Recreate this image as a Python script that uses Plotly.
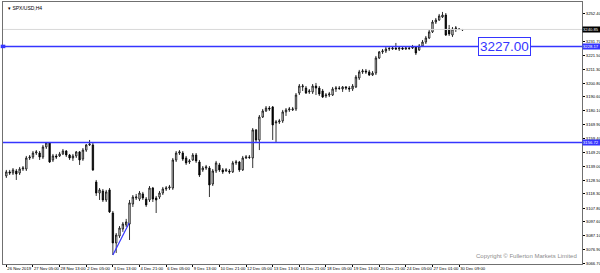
import plotly.graph_objects as go

# ---- data (SPX/USD H4) ----
opens = [3131.7,3134.7,3133.9,3135.4,3133.9,3136.9,3136.9,3145.1,3145.8,3148.8,
         3148.8,3145.8,3153.3,3156.3,3143.6,3146.6,3146.6,3148.1,3150.3,3147.3,
         3145.1,3146.6,3149.6,3144.3,3151.0,3154.8,3154.8,3127.2,3119.0,3120.5,
         3113.8,3121.3,3104.1,3081.8,3087.0,3092.2,3095.2,3095.9,3110.8,3115.3,
         3114.5,3118.3,3114.5,3113.8,3122.7,3115.3,3116.0,3119.0,3122.0,3122.7,
         3122.7,3143.6,3148.8,3148.8,3145.1,3142.1,3143.6,3147.3,3142.1,3136.2,
         3137.6,3137.6,3125.7,3135.4,3139.9,3136.2,3135.4,3135.4,3134.7,3141.4,
         3142.1,3136.2,3145.1,3145.8,3145.1,3166.0,3158.5,3175.6,3180.1,3182.3,
         3183.1,3171.2,3171.9,3172.7,3179.4,3180.9,3180.9,3181.6,3193.5,3198.0,
         3197.2,3194.3,3194.3,3198.7,3197.2,3195.0,3191.3,3192.0,3192.0,3196.5,
         3197.2,3196.5,3198.0,3197.2,3196.5,3198.0,3204.7,3209.2,3209.9,3209.2,
         3206.9,3208.4,3219.6,3224.1,3224.8,3226.3,3226.3,3227.0,3226.3,3227.0,
         3226.3,3227.0,3227.0,3227.8,3225.6,3228.5,3231.5,3234.5,3239.0,3246.4,
         3247.9,3250.1,3251.6,3241.2,3236.7,3241.2,3241.2,3240.5]
highs = [3136.2,3136.2,3137.6,3136.9,3138.4,3139.1,3146.6,3147.3,3150.3,3151.0,
         3150.3,3154.8,3157.0,3157.0,3148.1,3148.1,3149.6,3151.8,3151.0,3148.1,
         3148.1,3150.3,3150.3,3152.5,3155.5,3158.5,3156.3,3128.7,3122.7,3122.0,
         3121.3,3122.7,3105.6,3089.2,3094.4,3097.4,3099.7,3113.8,3117.5,3118.3,
         3120.5,3119.8,3116.0,3124.2,3123.5,3116.8,3120.5,3123.5,3124.2,3125.0,
         3145.1,3150.3,3151.0,3150.3,3146.6,3144.3,3148.8,3148.8,3143.6,3139.1,
         3139.9,3139.1,3136.9,3142.9,3141.4,3137.6,3137.6,3136.9,3142.9,3143.6,
         3142.9,3146.6,3147.3,3147.3,3167.4,3166.7,3177.1,3181.6,3183.8,3183.8,
         3183.8,3173.4,3174.2,3180.9,3182.3,3183.1,3183.1,3193.5,3200.2,3200.2,
         3198.7,3196.5,3200.2,3201.0,3198.7,3196.5,3193.5,3194.3,3198.0,3198.7,
         3198.7,3198.7,3198.7,3198.7,3200.2,3206.9,3210.7,3211.4,3211.4,3210.7,
         3209.9,3221.1,3224.8,3226.3,3227.8,3227.8,3228.5,3230.8,3227.8,3227.8,
         3227.8,3228.5,3229.3,3228.5,3230.0,3233.0,3236.0,3240.5,3247.9,3249.4,
         3252.4,3253.9,3253.1,3244.2,3242.7,3243.4,3241.9,3241.2]
lows = [3130.2,3132.4,3132.4,3128.7,3132.4,3135.4,3135.4,3143.6,3144.3,3147.3,
        3143.6,3144.3,3151.8,3141.4,3142.1,3144.3,3145.8,3147.3,3145.8,3143.6,
        3142.9,3145.1,3139.9,3142.9,3149.6,3154.0,3135.4,3116.8,3113.8,3112.3,
        3112.3,3104.1,3072.8,3074.3,3085.5,3090.0,3093.7,3084.0,3108.6,3113.8,
        3113.0,3113.8,3108.6,3112.3,3112.3,3104.1,3114.5,3117.5,3120.5,3121.3,
        3121.3,3142.1,3147.3,3142.9,3139.9,3140.6,3142.9,3141.4,3130.9,3134.7,
        3136.2,3116.0,3124.2,3133.9,3134.7,3133.2,3134.7,3133.2,3133.9,3139.9,
        3134.7,3135.4,3144.3,3144.3,3137.6,3157.0,3151.0,3174.9,3179.4,3180.1,
        3158.5,3157.0,3170.4,3171.2,3176.4,3179.4,3180.1,3180.1,3192.0,3195.0,
        3192.8,3192.8,3192.8,3192.0,3191.3,3189.8,3189.8,3190.5,3191.3,3194.3,
        3195.8,3194.3,3195.8,3194.3,3195.0,3197.2,3203.2,3207.7,3207.7,3206.2,
        3206.2,3206.9,3218.8,3222.6,3223.3,3224.8,3225.6,3225.6,3224.8,3225.6,
        3225.6,3225.6,3226.3,3221.8,3224.8,3227.8,3230.0,3233.7,3238.2,3244.9,
        3247.2,3249.4,3236.0,3236.0,3235.2,3239.0,3240.5,3239.7]
closes = [3134.7,3133.9,3136.2,3133.2,3136.9,3137.6,3145.1,3145.8,3148.8,3149.6,
          3145.8,3153.3,3156.3,3142.1,3146.6,3145.8,3148.1,3150.3,3147.3,3145.1,
          3146.6,3149.6,3143.6,3151.0,3154.8,3155.5,3136.2,3119.0,3121.3,3113.8,
          3119.8,3104.9,3081.8,3087.7,3092.9,3095.9,3097.4,3111.6,3116.0,3116.0,
          3119.0,3115.3,3110.1,3122.7,3114.5,3113.8,3119.0,3122.0,3122.7,3123.5,
          3143.6,3148.8,3149.6,3144.3,3141.4,3142.9,3147.3,3142.9,3132.4,3137.6,
          3138.4,3125.0,3135.4,3141.4,3136.2,3134.7,3136.2,3134.7,3141.4,3142.1,
          3136.2,3145.1,3145.8,3145.5,3166.0,3158.5,3175.6,3180.1,3182.3,3181.6,
          3169.7,3171.9,3172.7,3179.4,3180.9,3181.6,3181.6,3192.0,3198.7,3198.7,
          3193.5,3195.0,3198.7,3197.2,3192.8,3190.5,3192.0,3192.8,3196.5,3197.2,
          3196.9,3198.0,3197.2,3196.5,3198.7,3205.4,3209.2,3209.9,3209.2,3206.9,
          3208.4,3219.6,3224.1,3224.8,3226.3,3226.7,3227.0,3226.3,3227.0,3226.3,
          3227.0,3226.7,3227.8,3223.3,3228.5,3231.5,3234.5,3239.0,3246.4,3247.9,
          3250.9,3251.6,3236.7,3237.5,3241.2,3241.9,3240.8,3240.8]

x_labels = ["26 Nov 2019", "27 Nov 05:00", "28 Nov 13:00", "2 Dec 05:00", "3 Dec 13:00",
            "4 Dec 21:00", "6 Dec 05:00", "9 Dec 13:00", "10 Dec 21:00", "12 Dec 05:00",
            "13 Dec 13:00", "16 Dec 21:00", "18 Dec 05:00", "19 Dec 13:00", "20 Dec 21:00",
            "24 Dec 05:00", "27 Dec 01:00", "30 Dec 09:00"]
label_step = 8

y_ticks = [3252.40, 3242.00, 3231.70, 3221.50, 3211.30, 3200.80, 3190.60, 3180.10, 3169.90,
           3159.40, 3149.20, 3139.00, 3128.50, 3118.30, 3107.80, 3097.60, 3087.10, 3076.90, 3066.70]

resistance = 3228.2
resistance_tag = "3228.17"
support = 3156.7
support_tag = "3156.72"
current_price = 3240.85
box_label = "3227.00"
trend_x = [32, 36.9]
trend_y = [3072.8, 3096.7]

BLUE = "#3535ff"
SMALL = 4.2
bars = list(range(len(opens)))

# tick labels hidden behind the price tags (as on the reference)
hidden = {3242.00}
y_ticktext = ["" if v in hidden else f"{v:.2f}" for v in y_ticks]

fig = go.Figure()
fig.add_trace(go.Candlestick(
    x=bars, open=opens, high=highs, low=lows, close=closes,
    increasing=dict(line=dict(color="#000000", width=0.8), fillcolor="#ffffff"),
    decreasing=dict(line=dict(color="#000000", width=0.8), fillcolor="#000000"),
    whiskerwidth=0, showlegend=False, hoverinfo="skip"))

fig.add_trace(go.Scatter(x=trend_x, y=trend_y, mode="lines",
                         line=dict(color=BLUE, width=1.2), showlegend=False, hoverinfo="skip"))

# horizontal levels
for lvl in (resistance, support):
    fig.add_shape(type="line", xref="paper", x0=0, x1=1, yref="y", y0=lvl, y1=lvl,
                  line=dict(color=BLUE, width=1.5))
fig.add_shape(type="line", xref="paper", x0=0, x1=1, yref="y", y0=current_price, y1=current_price,
              line=dict(color="#d8d8d8", width=1))
fig.add_shape(type="rect", xref="paper", x0=-0.004, x1=0.004, yref="y",
              y0=resistance - 1.3, y1=resistance + 1.3, fillcolor=BLUE, line=dict(width=0))

# price tags on the axis
for val, txt, bg in ((current_price, f"{current_price:.2f}", "#000000"),
                     (resistance, resistance_tag, BLUE),
                     (support, support_tag, BLUE)):
    fig.add_annotation(xref="paper", x=1.0, xanchor="left", yref="y", y=val, text=txt,
                       showarrow=False, bgcolor=bg, font=dict(color="#ffffff", size=SMALL,
                       family="Liberation Sans"), borderpad=0, width=17, height=4.5, align="left")

# label box
fig.add_annotation(xref="x", x=149.5, yref="y", y=resistance, text=box_label, showarrow=False,
                   bgcolor="#ffffff", bordercolor=BLUE, borderwidth=1, borderpad=1,
                   font=dict(color=BLUE, size=13.5, family="Liberation Sans"))

fig.add_annotation(xref="paper", x=0.005, xanchor="left", yref="paper", y=0.995, yanchor="top",
                   text="▾ SPX/USD,H4", showarrow=False,
                   font=dict(color="#000000", size=5, family="Liberation Sans"))
fig.add_annotation(xref="paper", x=0.995, xanchor="right", yref="paper", y=0.012, yanchor="bottom",
                   text="Copyright © Fullerton Markets Limited", showarrow=False,
                   font=dict(color="#8c8c8c", size=6, family="Liberation Sans"))

fig.update_layout(
    width=600, height=273, margin=dict(l=3, r=18, t=2, b=9),
    paper_bgcolor="#ffffff", plot_bgcolor="#ffffff", boxgap=0.4,
    font=dict(family="Liberation Sans", size=SMALL, color="#000000"),
    xaxis=dict(range=[-1, 172.9], rangeslider=dict(visible=False), showgrid=False, zeroline=False,
               tickmode="array", tickvals=[i * label_step for i in range(len(x_labels))],
               ticktext=x_labels, ticks="outside", ticklen=2, tickcolor="#000000",
               tickangle=0, ticklabelposition="outside right", ticklabelstandoff=0,
               tickfont=dict(size=SMALL),
               showline=True, linecolor="#707070", mirror=True, automargin=False),
    yaxis=dict(range=[3066.1, 3261.3], side="right", showgrid=False, zeroline=False,
               tickmode="array", tickvals=y_ticks, ticktext=y_ticktext,
               ticks="outside", ticklen=2, tickcolor="#000000", tickfont=dict(size=SMALL),
               ticklabelstandoff=0,
               showline=True, linecolor="#707070", mirror=True, automargin=False),
)

fig.write_html("out.html")
